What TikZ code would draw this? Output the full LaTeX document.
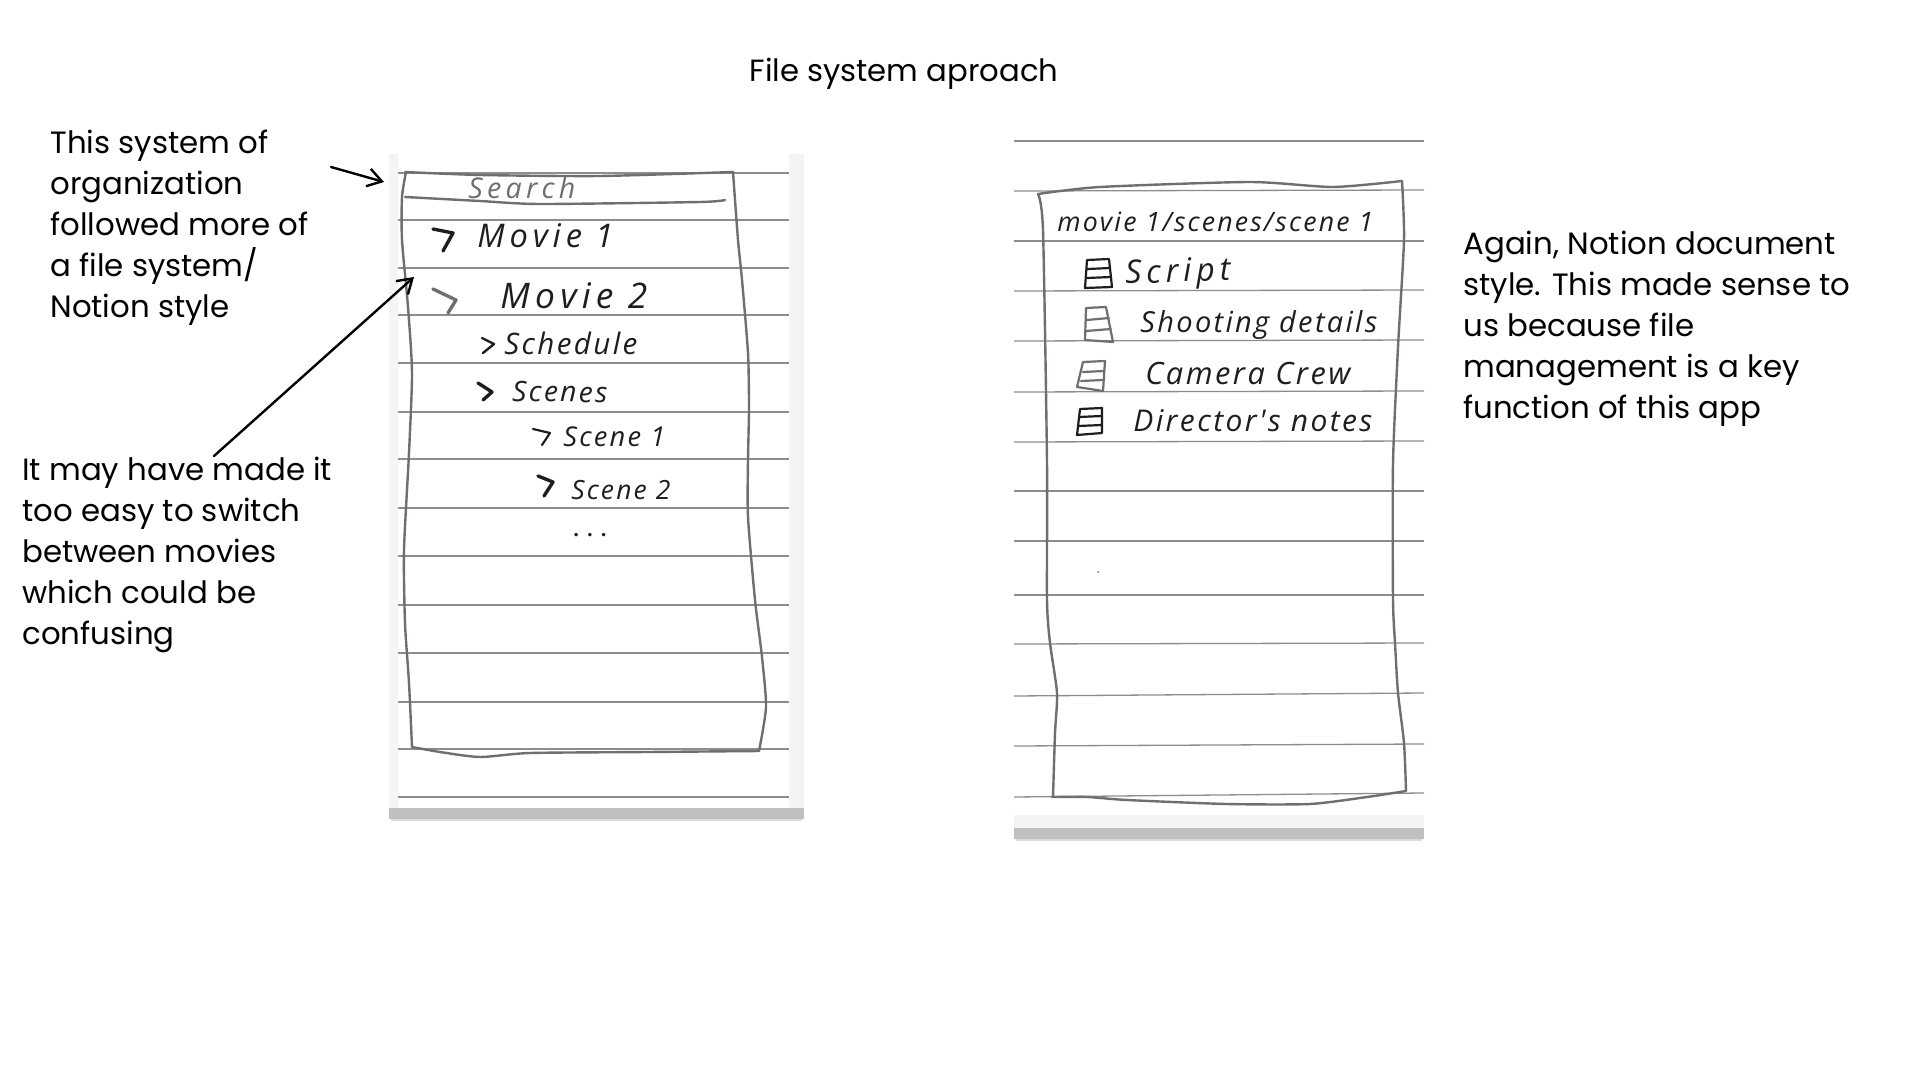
\documentclass[tikz,border=0pt]{standalone}
\usepackage{graphicx}
\usepackage{fontspec}
\usetikzlibrary{arrows.meta}
\setmainfont{Poppins}
\newfontfamily\handfont[LetterSpace=8]{Open Sans}
\newfontfamily\handwide[LetterSpace=15]{Open Sans}
\definecolor{pencilgray}{HTML}{6E6F74}
\definecolor{rulegray}{HTML}{8C8E8E}
\definecolor{inkdark}{HTML}{1E1E22}
\definecolor{panelgray}{HTML}{F4F4F4}
\definecolor{shadowgray}{HTML}{C0C0C0}
\tikzset{
  pencil/.style={draw=pencilgray,line width=1.2pt,line join=round,line cap=round},
  ruled/.style={draw=rulegray,line width=.65pt},
  chevron/.style={draw=inkdark,line width=1.7pt,line join=round,line cap=round},
  iconline/.style={draw=inkdark,line width=1.1pt,line join=round,line cap=round},
  note/.style={inner sep=0pt,anchor=north west,align=left,text=black,font=\fontsize{15.4}{20.5}\selectfont},
  pointer/.style={draw=black,line width=1.2pt,line cap=round,-{Straight Barb[length=7pt,width=9pt,line width=1.2pt]}},
  handtext/.style={inner sep=0pt,anchor=west,text=inkdark}
}
\newcommand{\handlabel}[6]{% name, x, y, width, rotation, text
  \node[handtext,rotate=#5] (#1) at (#2,#3) {\resizebox{\dimexpr #4pt/2\relax}{!}{\handfont\itshape #6}};}
\newcommand{\widelabel}[6]{% name, x, y, width, rotation, text
  \node[handtext,rotate=#5] (#1) at (#2,#3) {\resizebox{\dimexpr #4pt/2\relax}{!}{\handwide\itshape #6}};}
\begin{document}
\begin{tikzpicture}[x=0.5pt,y=-0.5pt]
\useasboundingbox (0,0) rectangle (1920,1080);
\fill[white] (0,0) rectangle (1920,1080);

% left sheet
\fill[shadowgray!55] (391,818) rectangle (802,821);
\fill[shadowgray] (389,806) rectangle (804,819);
\fill[panelgray] (389,154) rectangle (804,808);
\fill[white] (398,154) rectangle (789,808);
\foreach \yy in {173,220,268,315,363,412,459,508,556,605,653,702,749,797}{
  \draw[ruled] (398,\yy) -- (789,\yy);
}
\draw[pencil] plot[smooth,tension=.4] coordinates {(405,172)(480,175)(600,176)(733,172)};
\draw[pencil] plot[smooth,tension=.4] coordinates {(733,172)(738,240)(742,280)(748,353)(749,407)(748,460)(748,517)(755,600)(762,657)(766,707)(759,751)};
\draw[pencil] plot[smooth,tension=.4] coordinates {(759,751)(647,752)(530,753)(480,757)(440,752)(412,747)};
\draw[pencil] plot[smooth,tension=.4] coordinates {(412,747)(409,683)(405,623)(404,550)(409,453)(412,373)(408,307)(402,240)(402,197)(406,172)};
\draw[pencil] plot[smooth,tension=.4] coordinates {(405,197)(480,201)(540,204)(700,202)(725,200)};

\node[handtext,text=pencilgray] (searchlabel) at (468,188) {\resizebox{53.5pt}{!}{\handwide\itshape Search}};
\widelabel{movieone}{477}{236}{136}{0}{Movie 1}
\widelabel{movietwo}{500}{296}{147}{0}{Movie 2}
\handlabel{schedule}{504}{343}{133}{0}{Schedule}
\handlabel{scenes}{512}{391}{95}{-1}{Scenes}
\handlabel{sceneone}{563}{437}{102}{0}{Scene 1}
\handlabel{scenetwo}{571}{490}{99}{0}{Scene 2}
\node[inner sep=0pt,text=inkdark] (moredots) at (590,535) {\handfont\bfseries .\hspace{4pt}.\hspace{4pt}.};

\draw[chevron] (433,229) -- (453,233) -- (443,251);
\draw[chevron,draw=pencilgray] (433,289) -- (456,300) -- (448,313);
\draw[chevron,line width=1.2pt] (482,338) -- (494,344) -- (483,353);
\draw[chevron] (478,383) -- (492,392) -- (483,400);
\draw[chevron,line width=1.1pt] (533,429) -- (550,433) -- (542,445);
\draw[chevron] (538,476) -- (553,482) -- (544,496);

% right sheet
\fill[shadowgray!55] (1016,838) rectangle (1422,841);
\fill[shadowgray] (1014,826) rectangle (1424,839);
\fill[panelgray] (1014,815) rectangle (1424,828);
\fill[white] (1014,141) rectangle (1424,815);
\foreach \yl/\yr in {141/141,191/190,241/241,291/290,341/340,392/391,442/441,491/491,541/541,595/595,644/643,696/693,746/744,797/793}{
  \draw[ruled] (1014,\yl) -- (1424,\yr);
}
\draw[pencil] plot[smooth,tension=.4] coordinates {(1038,194)(1100,187)(1250,182)(1333,187)(1402,181)};
\draw[pencil] plot[smooth,tension=.4] coordinates {(1402,181)(1404,240)(1398,347)(1393,463)(1393,600)(1395,643)(1398,693)(1404,743)(1406,791)};
\draw[pencil] plot[smooth,tension=.4] coordinates {(1406,791)(1367,797)(1310,804)(1227,804)(1127,800)(1087,797)(1052,797)};
\draw[pencil] plot[smooth,tension=.4] coordinates {(1053,797)(1055,733)(1057,693)(1050,643)(1047,600)(1047,463)(1043,230)(1038,194)};
\fill[pencilgray] (1098,572) circle (1);

\handlabel{pathlabel}{1057}{222}{316}{0}{movie 1/scenes/scene 1}
\widelabel{scriptlabel}{1125}{276}{105}{2}{Script}
\handlabel{shootlabel}{1140}{325}{237}{0}{Shooting details}
\handlabel{cameralabel}{1145}{374}{205}{0}{Camera Crew}
\handlabel{directorlabel}{1133}{421}{239}{0}{Director's notes}

% document icons
\draw[iconline] (1087,260) -- (1109,259) -- (1112,287) -- (1085,288) -- cycle (1088,269) -- (1110,268) (1087,278) -- (1111,277);
\draw[iconline,draw=pencilgray] (1086,308) -- (1106,307) -- (1113,342) -- (1085,340) -- cycle (1087,320) -- (1109,318) (1086,331) -- (1111,329);
\draw[iconline,draw=pencilgray] (1083,362) -- (1105,361) -- (1103,391) -- (1077,387) -- cycle (1083,372) -- (1104,371) (1081,381) -- (1103,380);
\draw[iconline] (1080,409) -- (1102,408) -- (1102,433) -- (1077,435) -- cycle (1079,417) -- (1102,416) (1078,426) -- (1102,425);

% typed notes
\node[note,anchor=center,font=\fontsize{15.35}{17}\selectfont] (title) at (904,74) {File system aproach};
\node[note] (noteorg) at (50,130) {This system of\\organization\\followed more of\\a file system/\\Notion style};
\node[note] (noteswitch) at (22,457) {It may have made it\\too easy to switch\\between movies\\which could be\\confusing};
\node[note] (notedoc) at (1463,231) {Again, Notion document\\style. This made sense to\\us because file\\management is a key\\function of this app};

% arrows
\coordinate (ptrAfrom) at (331,167);
\coordinate (ptrAto) at (384,182);
\coordinate (ptrBfrom) at (214,456);
\coordinate (ptrBto) at (414,277);
\draw[pointer] (ptrAfrom) -- (ptrAto);
\draw[pointer] (ptrBfrom) -- (ptrBto);
\end{tikzpicture}
\end{document}
